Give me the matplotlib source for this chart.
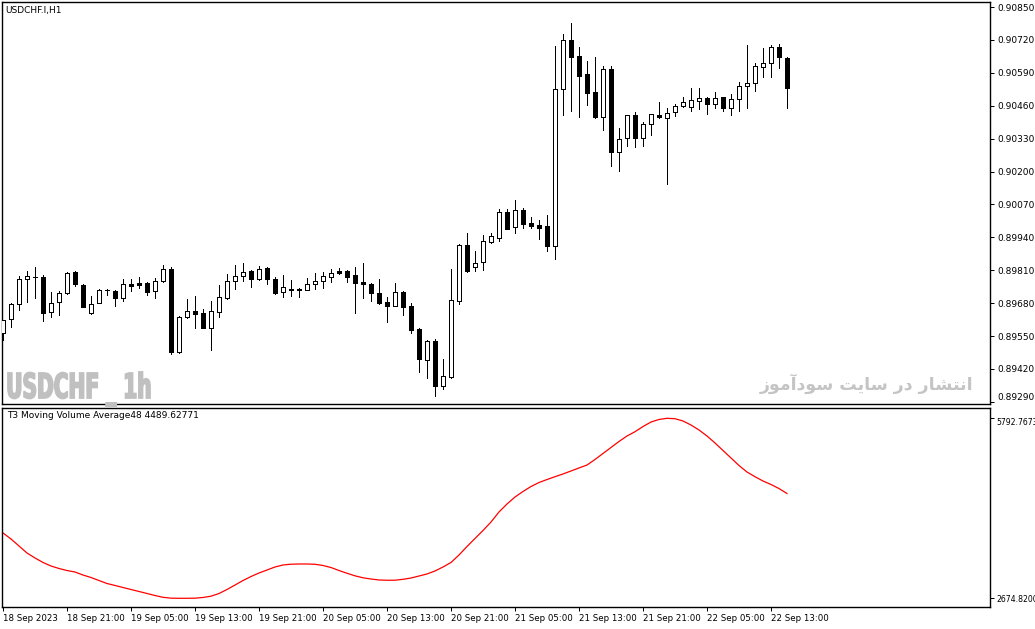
import matplotlib
matplotlib.use("Agg")
import matplotlib.pyplot as plt
import numpy as np
from matplotlib.textpath import TextPath
from matplotlib.patches import PathPatch
from matplotlib.font_manager import FontProperties
from matplotlib.transforms import Affine2D

W, H = 1035, 629

# USDCHF H1 candles, 18 Sep 13:00 -> 22 Sep 15:00
opens = [0.89562, 0.89617, 0.89677, 0.89775, 0.89783, 0.89783, 0.89645, 0.89685, 0.89720, 0.89803,
         0.89752, 0.89641, 0.89681, 0.89731, 0.89728, 0.89700, 0.89756, 0.89760, 0.89760, 0.89728,
         0.89767, 0.89815, 0.89487, 0.89625, 0.89649, 0.89641, 0.89582, 0.89645, 0.89700, 0.89767,
         0.89787, 0.89807, 0.89775, 0.89819, 0.89775, 0.89724, 0.89734, 0.89734, 0.89732, 0.89756,
         0.89767, 0.89783, 0.89807, 0.89807, 0.89791, 0.89764, 0.89756, 0.89720, 0.89685, 0.89669,
         0.89724, 0.89669, 0.89578, 0.89455, 0.89530, 0.89353, 0.89388, 0.89688, 0.89910, 0.89823,
         0.89843, 0.89922, 0.89937, 0.90040, 0.89981, 0.90048, 0.89997, 0.89989, 0.89985, 0.89906,
         0.90526, 0.90720, 0.90656, 0.90585, 0.90514, 0.90415, 0.90605, 0.90277, 0.90332, 0.90423,
         0.90332, 0.90388, 0.90423, 0.90411, 0.90435, 0.90459, 0.90455, 0.90479, 0.90490, 0.90467,
         0.90494, 0.90451, 0.90487, 0.90538, 0.90550, 0.90613, 0.90629, 0.90692, 0.90649]
closes = [0.89613, 0.89677, 0.89775, 0.89787, 0.89785, 0.89641, 0.89681, 0.89720, 0.89799, 0.89756,
          0.89665, 0.89677, 0.89732, 0.89731, 0.89700, 0.89756, 0.89748, 0.89752, 0.89724, 0.89767,
          0.89815, 0.89487, 0.89625, 0.89649, 0.89637, 0.89582, 0.89649, 0.89704, 0.89767, 0.89787,
          0.89803, 0.89775, 0.89815, 0.89775, 0.89720, 0.89744, 0.89732, 0.89730, 0.89756, 0.89767,
          0.89787, 0.89799, 0.89799, 0.89783, 0.89760, 0.89756, 0.89720, 0.89681, 0.89669, 0.89724,
          0.89665, 0.89574, 0.89459, 0.89530, 0.89353, 0.89392, 0.89692, 0.89910, 0.89807, 0.89839,
          0.89926, 0.89945, 0.90040, 0.89973, 0.90048, 0.89993, 0.89985, 0.89977, 0.89906, 0.90526,
          0.90720, 0.90653, 0.90577, 0.90510, 0.90415, 0.90605, 0.90277, 0.90329, 0.90423, 0.90332,
          0.90388, 0.90427, 0.90415, 0.90431, 0.90459, 0.90475, 0.90483, 0.90490, 0.90467, 0.90490,
          0.90451, 0.90487, 0.90538, 0.90550, 0.90617, 0.90629, 0.90692, 0.90653, 0.90530]
highs = [0.89613, 0.89681, 0.89787, 0.89807, 0.89823, 0.89791, 0.89724, 0.89728, 0.89803, 0.89807,
         0.89756, 0.89708, 0.89736, 0.89736, 0.89732, 0.89775, 0.89775, 0.89783, 0.89764, 0.89779,
         0.89831, 0.89823, 0.89629, 0.89697, 0.89708, 0.89657, 0.89688, 0.89752, 0.89795, 0.89831,
         0.89839, 0.89809, 0.89827, 0.89823, 0.89783, 0.89791, 0.89771, 0.89740, 0.89779, 0.89799,
         0.89803, 0.89815, 0.89819, 0.89811, 0.89823, 0.89839, 0.89760, 0.89775, 0.89704, 0.89760,
         0.89728, 0.89681, 0.89582, 0.89534, 0.89538, 0.89459, 0.89815, 0.89914, 0.89957, 0.89886,
         0.89949, 0.89957, 0.90052, 0.90052, 0.90087, 0.90056, 0.90020, 0.90008, 0.90028, 0.90696,
         0.90743, 0.90787, 0.90692, 0.90637, 0.90653, 0.90617, 0.90617, 0.90372, 0.90425, 0.90435,
         0.90396, 0.90429, 0.90475, 0.90451, 0.90467, 0.90494, 0.90530, 0.90530, 0.90494, 0.90514,
         0.90496, 0.90506, 0.90554, 0.90700, 0.90629, 0.90688, 0.90700, 0.90704, 0.90653]
lows = [0.89534, 0.89586, 0.89653, 0.89685, 0.89700, 0.89609, 0.89625, 0.89633, 0.89718, 0.89748,
        0.89663, 0.89639, 0.89679, 0.89712, 0.89669, 0.89688, 0.89728, 0.89740, 0.89712, 0.89700,
        0.89765, 0.89479, 0.89483, 0.89623, 0.89582, 0.89580, 0.89495, 0.89625, 0.89698, 0.89736,
        0.89767, 0.89744, 0.89773, 0.89756, 0.89718, 0.89704, 0.89708, 0.89704, 0.89730, 0.89736,
        0.89740, 0.89764, 0.89797, 0.89764, 0.89641, 0.89700, 0.89688, 0.89677, 0.89605, 0.89667,
        0.89633, 0.89562, 0.89408, 0.89384, 0.89313, 0.89341, 0.89386, 0.89677, 0.89805, 0.89807,
        0.89811, 0.89918, 0.89926, 0.89971, 0.89957, 0.89977, 0.89977, 0.89933, 0.89886, 0.89854,
        0.90423, 0.90439, 0.90415, 0.90463, 0.90413, 0.90364, 0.90222, 0.90202, 0.90301, 0.90297,
        0.90301, 0.90344, 0.90413, 0.90151, 0.90419, 0.90455, 0.90439, 0.90447, 0.90427, 0.90451,
        0.90439, 0.90423, 0.90439, 0.90451, 0.90518, 0.90573, 0.90573, 0.90609, 0.90451]

# T3 moving volume average (48)
volume_t3 = [3806, 3702, 3581, 3459, 3373, 3295, 3234, 3191, 3156, 3130,
             3078, 3035, 2983, 2931, 2897, 2862, 2827, 2793, 2758, 2723,
             2692, 2677, 2675, 2674.82, 2677, 2689, 2711, 2758, 2827, 2905,
             2983, 3052, 3113, 3165, 3217, 3252, 3265, 3269, 3269, 3264,
             3243, 3208, 3156, 3108, 3064, 3030, 3009, 2992, 2987, 2988,
             3004, 3026, 3061, 3096, 3148, 3217, 3295, 3425, 3572, 3711,
             3849, 3996, 4170, 4308, 4429, 4525, 4611, 4680, 4732, 4781,
             4828, 4880, 4932, 4983, 5079, 5183, 5287, 5391, 5486, 5560,
             5650, 5728, 5772, 5792.7673, 5785, 5746, 5676, 5590, 5486, 5365,
             5235, 5105, 4975, 4862, 4781, 4706, 4646, 4576, 4489.62771]

price_ticks = [0.90850, 0.90720, 0.90590, 0.90460, 0.90330, 0.90200, 0.90070,
               0.89940, 0.89810, 0.89680, 0.89550, 0.89420, 0.89290]
volume_ticks = [2674.82, 5792.7673]
volume_tick_labels = ["2674.8200", "5792.7673"]
time_labels = ["18 Sep 2023", "18 Sep 21:00", "19 Sep 05:00", "19 Sep 13:00", "19 Sep 21:00",
               "20 Sep 05:00", "20 Sep 13:00", "20 Sep 21:00", "21 Sep 05:00", "21 Sep 13:00",
               "21 Sep 21:00", "22 Sep 05:00", "22 Sep 13:00"]

fs = 6.5
px = 0.72  # one pixel line width in points
fig = plt.figure(figsize=(W / 100, H / 100), dpi=100)


def px_axes(x0, y0, x1, y1):
    return fig.add_axes([x0 / W, 1 - y1 / H, (x1 - x0) / W, (y1 - y0) / H])


ax = px_axes(2, 2, 990, 404)
ax2 = px_axes(2, 408, 990, 607)

x = np.arange(len(opens))
o = np.array(opens)
c = np.array(closes)
up = c >= o

# wicks then bodies
ax.vlines(x, lows, highs, color="black", lw=px, antialiased=False, zorder=2)
ax.bar(x, c - o, bottom=o, width=0.56, color=np.where(up, "white", "black"),
       edgecolor="black", lw=px, antialiased=False, zorder=3)

ax.set_xlim(-0.125, 123.375)
ax.set_ylim(0.892815, 0.908698)
ax.set_xticks([])
ax.set_yticks(price_ticks)
ax.set_yticklabels(["%.5f" % p for p in price_ticks])
ax.yaxis.tick_right()
ax.tick_params(axis="y", direction="out", length=3, width=px, labelsize=fs, pad=2)
ax.get_yticklabels()[-1].set_va("bottom")

ax2.plot(x, volume_t3, color="red", lw=0.9)
ax2.set_xlim(-0.125, 123.375)
ax2.set_ylim(2524.1, 5970.8)
ax2.set_yticks(volume_ticks)
ax2.set_yticklabels(volume_tick_labels)
ax2.yaxis.tick_right()
ax2.tick_params(axis="y", direction="out", length=3, width=px, labelsize=5.6, pad=1.5)
ax2.get_yticklabels()[1].set_va("top")
ax2.set_xticks(range(0, len(opens), 8))
ax2.set_xticklabels(time_labels)
ax2.tick_params(axis="x", direction="out", length=3, width=px, labelsize=6.2, pad=2)
for lab in ax2.get_xticklabels():
    lab.set_ha("left")

for a in (ax, ax2):
    for s in a.spines.values():
        s.set_color("black")
        s.set_linewidth(1)

fig.text(5 / W, 1 - 10 / H, "USDCHF.I,H1", fontsize=fs, va="center", ha="left")
fig.text(7 / W, 1 - 416 / H, "T3 Moving Volume Average48 4489.62771",
         fontsize=fs, va="center", ha="left")

# grey watermark, squeezed bold letters
fp = FontProperties(family="DejaVu Sans", weight="bold")
wm = TextPath((0, 0), "USDCHF _ 1h", size=100, prop=fp)
cap = TextPath((0, 0), "H", size=100, prop=fp).get_extents()
bb = wm.get_extents()
sx = 142 / (bb.x1 - bb.x0)
sy = 25 / cap.y1
tr = Affine2D().translate(-bb.x0, 0).scale(sx, sy).translate(8, H - 398)
fig.add_artist(PathPatch(wm, transform=tr, facecolor="#c0c0c0",
                         edgecolor="#c0c0c0", lw=1.3))

# Persian watermark, letters given in presentation forms, visual order
fa_text = ("\ufeaf\ufeee\ufee3\ufe81\ufea9\ufeee\ufeb3 "
           "\ufe96\ufef3\ufe8e\ufeb3 "
           "\ufead\ufea9 "
           "\ufead\ufe8e\ufeb8\ufe98\ufee7\ufe8d")
fig.text(973 / W, 1 - 390 / H, fa_text, fontsize=12.5, fontweight="bold",
         family="DejaVu Sans", color="#c4c4c4", ha="right", va="baseline")

fig.savefig("out.png", dpi=100)
